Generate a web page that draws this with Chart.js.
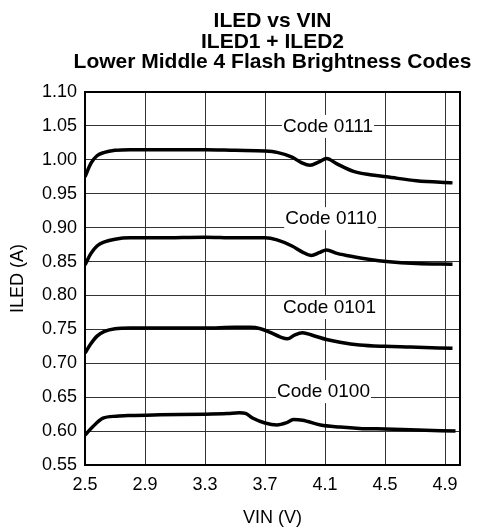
<!DOCTYPE html>
<html>
<head>
<meta charset="utf-8">
<script src="https://cdn.jsdelivr.net/npm/chart.js@4.4.1/dist/chart.umd.min.js"></script>
<style>
    body { margin: 0; background: #fff; }
    #wrap { width: 480px; height: 529px; }
</style>
</head>
<body>
<div id="wrap"><canvas id="iledChart"></canvas></div>
<script>
const titleLines = ['ILED vs VIN', 'ILED1 + ILED2', 'Lower Middle 4 Flash Brightness Codes'];
const vinTicks = [2.5, 2.9, 3.3, 3.7, 4.1, 4.5, 4.9];
const iledTicks = [0.55, 0.60, 0.65, 0.70, 0.75, 0.80, 0.85, 0.90, 0.95, 1.00, 1.05, 1.10];

// Code 0111
const vin0111 = [2.5, 2.54, 2.58, 2.63, 2.7, 2.8, 3.0, 3.3, 3.5, 3.7, 3.78, 3.88, 3.95, 4.0, 4.06, 4.11, 4.18, 4.29, 4.4, 4.51, 4.71, 4.95];
const iled0111 = [0.975, 0.995, 1.006, 1.011, 1.014, 1.015, 1.015, 1.015, 1.014, 1.013, 1.011, 1.004, 0.995, 0.992, 0.997, 1.002, 0.994, 0.983, 0.978, 0.975, 0.969, 0.966];
// Code 0110
const vin0110 = [2.5, 2.54, 2.58, 2.63, 2.7, 2.8, 3.0, 3.3, 3.5, 3.7, 3.78, 3.88, 3.95, 4.01, 4.06, 4.11, 4.18, 4.29, 4.4, 4.51, 4.71, 4.95];
const iled0110 = [0.845, 0.862, 0.873, 0.879, 0.883, 0.885, 0.885, 0.886, 0.885, 0.885, 0.882, 0.873, 0.864, 0.859, 0.863, 0.867, 0.862, 0.857, 0.853, 0.850, 0.847, 0.846];
// Code 0101
const vin0101 = [2.5, 2.54, 2.58, 2.63, 2.7, 2.8, 3.0, 3.3, 3.5, 3.6, 3.67, 3.73, 3.8, 3.85, 3.9, 3.95, 4.02, 4.11, 4.2, 4.33, 4.5, 4.67, 4.95];
const iled0101 = [0.715, 0.729, 0.740, 0.747, 0.751, 0.752, 0.752, 0.752, 0.753, 0.753, 0.751, 0.746, 0.739, 0.736, 0.742, 0.745, 0.741, 0.735, 0.731, 0.727, 0.725, 0.724, 0.722];
// Code 0100
const vin0100 = [2.5, 2.55, 2.62, 2.71, 2.8, 3.0, 3.3, 3.45, 3.53, 3.57, 3.62, 3.7, 3.78, 3.84, 3.89, 3.95, 4.07, 4.2, 4.33, 4.5, 4.67, 4.97];
const iled0100 = [0.594, 0.606, 0.619, 0.622, 0.623, 0.624, 0.625, 0.626, 0.627, 0.626, 0.619, 0.612, 0.609, 0.612, 0.617, 0.616, 0.609, 0.606, 0.604, 0.603, 0.602, 0.600];

const codeLabels = ['Code 0111', 'Code 0110', 'Code 0101', 'Code 0100'];
const codeLabelVin = [4.12, 4.14, 4.13, 4.09];
const codeLabelIled = [1.05, 0.914, 0.783, 0.659];

const fontFamily = '"Liberation Sans", Arial, Helvetica, sans-serif';

function toPoints(xs, ys) {
    return xs.map((v, i) => ({x: v, y: ys[i]}));
}

function makeSeries(label, xs, ys) {
    return {
        label: label,
        data: toPoints(xs, ys),
        borderColor: '#000',
        borderWidth: 3.5,
        pointRadius: 0,
        fill: false,
        cubicInterpolationMode: 'monotone'
    };
}

// frame, code labels and the 3 line title
const frameAndLabels = {
    id: 'frameAndLabels',
    afterDatasetsDraw(chart) {
        const ctx = chart.ctx;
        const a = chart.chartArea;
        const xs = chart.scales.x;
        const ys = chart.scales.y;
        ctx.save();
        ctx.font = '19px ' + fontFamily;
        ctx.textAlign = 'center';
        ctx.textBaseline = 'middle';
        codeLabels.forEach((txt, i) => {
            const px = xs.getPixelForValue(codeLabelVin[i]);
            const py = ys.getPixelForValue(codeLabelIled[i]);
            const w = ctx.measureText(txt).width + 2;
            ctx.fillStyle = '#fff';
            ctx.fillRect(px - w / 2, py - 11, w, 23);
            ctx.fillStyle = '#000';
            ctx.fillText(txt, px, py + 1);
        });
        ctx.strokeStyle = '#000';
        ctx.lineWidth = 2;
        ctx.strokeRect(a.left, a.top, a.right - a.left, a.bottom - a.top);

        ctx.font = 'bold 21px ' + fontFamily;
        ctx.textBaseline = 'alphabetic';
        const cx = (a.left + a.right) / 2;
        titleLines.forEach((t, i) => ctx.fillText(t, cx, 27 + i * 20.5));
        ctx.restore();
    }
};

const ctx = document.getElementById('iledChart').getContext('2d');
new Chart(ctx, {
    type: 'line',
    data: {
        datasets: [
            makeSeries('Code 0111', vin0111, iled0111),
            makeSeries('Code 0110', vin0110, iled0110),
            makeSeries('Code 0101', vin0101, iled0101),
            makeSeries('Code 0100', vin0100, iled0100)
        ]
    },
    options: {
        responsive: true,
        maintainAspectRatio: false,
        animation: false,
        layout: {
            padding: {top: 92, right: 20, left: 0, bottom: 0}
        },
        plugins: {
            legend: {display: false},
            title: {display: false},
            tooltip: {enabled: false}
        },
        scales: {
            x: {
                type: 'linear',
                min: 2.5,
                max: 5.0,
                afterBuildTicks: (scale) => {
                    scale.ticks = vinTicks.map(v => ({value: v}));
                },
                afterFit: (scale) => { scale.height = 64; },
                grid: {color: '#333', lineWidth: 1, drawTicks: false},
                border: {display: false},
                ticks: {
                    color: '#000',
                    padding: 9,
                    maxRotation: 0,
                    font: {family: fontFamily, size: 18},
                    callback: (v) => Number(v).toFixed(1)
                },
                title: {
                    display: true,
                    text: 'VIN (V)',
                    color: '#000',
                    padding: {top: 0, bottom: 0},
                    font: {family: fontFamily, size: 18}
                }
            },
            y: {
                min: 0.55,
                max: 1.10,
                afterBuildTicks: (scale) => {
                    scale.ticks = iledTicks.map(v => ({value: v}));
                },
                afterFit: (scale) => { scale.width = 85; },
                grid: {color: '#333', lineWidth: 1, drawTicks: false},
                border: {display: false},
                ticks: {
                    color: '#000',
                    padding: 8,
                    font: {family: fontFamily, size: 18},
                    callback: (v) => Number(v).toFixed(2)
                },
                title: {
                    display: true,
                    text: 'ILED (A)',
                    color: '#000',
                    padding: {top: 7, bottom: 0},
                    font: {family: fontFamily, size: 18}
                }
            }
        }
    },
    plugins: [frameAndLabels]
});
</script>
</body>
</html>
